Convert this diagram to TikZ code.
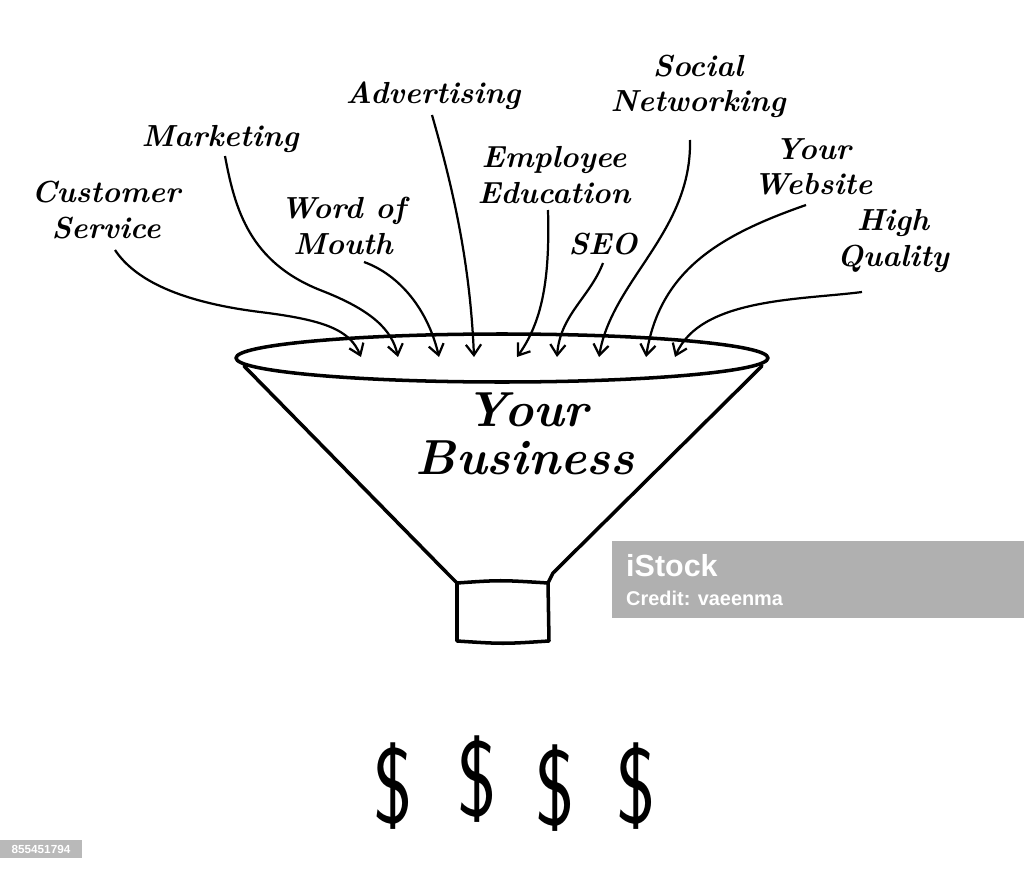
\documentclass[tikz,border=0pt]{standalone}
\usepackage{fontspec}
\newfontfamily\wmfont{Liberation Sans}
\usetikzlibrary{arrows.meta}
\tikzset{
  lbl/.style={font=\fontsize{26}{30}\selectfont\bfseries\itshape, align=center, inner sep=0pt},
  big/.style={font=\fontsize{42}{46}\selectfont\bfseries\itshape, inner sep=0pt},
  dollar/.style={font=\fontsize{92}{92}\selectfont\sffamily, inner sep=0pt, xscale=0.78},
  arr/.style={line width=1.9pt, -{Straight Barb[length=9pt,width=13pt,line width=1.9pt]}},
  funnel/.style={line width=3pt, line join=round, line cap=round},
}
\begin{document}
\begin{tikzpicture}[x=0.03cm,y=-0.03cm]
\useasboundingbox (0,0) rectangle (1024,870);
\fill[white] (0,0) rectangle (1024,870);

% labels
\node[lbl] (cs) at (106,210) {Customer\\Service};
\node[lbl] (mk) at (220,139) {Marketing};
\node[lbl] (wm) at (343,226) {Word of\\Mouth};
\node[lbl] (ad) at (433,96) {Advertising};
\node[lbl] (ee) at (554,175) {Employee\\Education};
\node[lbl] (seo) at (603,244) {SEO};
\node[lbl] (sn) at (698,86) {Social\\Networking};
\node[lbl] (yw) at (813,167) {Your\\Website};
\node[lbl] (hq) at (893,241) {High\\Quality};

% start and tip coordinates
\coordinate (s1) at (115,250); \coordinate (t1) at (361,357);
\coordinate (s2) at (225,156); \coordinate (t2) at (398,357);
\coordinate (s3) at (364,262); \coordinate (t3) at (439,357);
\coordinate (s4) at (432,115); \coordinate (t4) at (474,357);
\coordinate (s5) at (548,210); \coordinate (t5) at (517,357);
\coordinate (s6) at (603,263); \coordinate (t6) at (557,357);
\coordinate (s7) at (690,140); \coordinate (t7) at (599,357);
\coordinate (s8) at (806,205); \coordinate (t8) at (646,357);
\coordinate (s9) at (862,292); \coordinate (t9) at (675,357);

% funnel
\draw[funnel] (502,358) ellipse [x radius=266, y radius=24];
\draw[funnel] (244,366) -- (447,573) .. controls (452,578) .. (457,583);
\draw[funnel] (762,366) -- (553,573) .. controls (550,578) .. (548,583);
\draw[funnel] (457,583) .. controls (500,580) .. (548,583) -- (549,641)
  .. controls (503,644) .. (457,641) -- cycle;

% arrows
\draw[arr] (s1) .. controls (135,280) and (180,302) .. (260,312)
  .. controls (325,320) and (350,330) .. (t1);
\draw[arr] (s2) .. controls (235,210) and (250,262) .. (320,290)
  .. controls (372,310) and (392,330) .. (t2);
\draw[arr] (s3) .. controls (400,275) and (428,310) .. (t3);
\draw[arr] (s4) .. controls (452,185) and (470,260) .. (t4);
\draw[arr] (s5) .. controls (550,280) and (542,322) .. (t5);
\draw[arr] (s6) .. controls (590,297) and (560,315) .. (t6);
\draw[arr] (s7) .. controls (692,232) and (612,280) .. (t7);
\draw[arr] (s8) .. controls (720,235) and (660,270) .. (t8);
\draw[arr] (s9) .. controls (800,300) and (700,298) .. (t9);

% center text
\node[big] (your) at (527,410) {Your};
\node[big] (bus) at (525,458) {Business};

% dollars
\node[dollar] (d1) at (393,786) {\$};
\node[dollar] (d2) at (477,779) {\$};
\node[dollar] (d3) at (555,788) {\$};
\node[dollar] (d4) at (636,786) {\$};

% watermark
\fill[gray!62] (612,541) rectangle (1024,618);
\node[font=\fontsize{26}{28}\selectfont\wmfont\bfseries, text=white, anchor=west, inner sep=0pt] (ist) at (626,566) {iStock};
\node[font=\fontsize{17}{19}\selectfont\wmfont\bfseries, text=white, anchor=west, inner sep=0pt] (cred) at (626,598) {Credit: vaeenma};
\fill[gray!55] (0,840) rectangle (82,858);
\node[font=\fontsize{10}{11}\selectfont\wmfont\bfseries, text=white, inner sep=0pt] (id) at (41,849) {855451794};
\end{tikzpicture}
\end{document}
